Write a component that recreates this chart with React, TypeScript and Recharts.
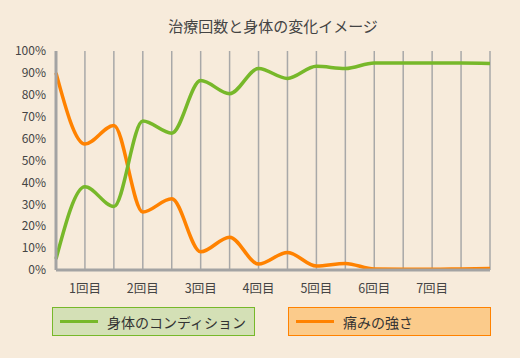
import React from "react";
import {
  LineChart,
  Line,
  XAxis,
  YAxis,
  ReferenceLine,
} from "recharts";

const steps = [0, 1, 2, 3, 4, 5, 6, 7, 8, 9, 10, 11, 12, 13, 14, 15];
const condition = [5, 38, 29, 68, 62.5, 86.5, 80.5, 92, 87.5, 93, 92, 94.5, 94.5, 94.5, 94.5, 94.3];
const pain = [90, 57.5, 66, 26.5, 32.5, 8.3, 15, 2.7, 8, 1.8, 3, 0.4, 0.3, 0.3, 0.5, 0.7];
const xTicks = [1, 3, 5, 7, 9, 11, 13];
const xLabels = ["1回目", "2回目", "3回目", "4回目", "5回目", "6回目", "7回目"];
const yTicks = [0, 10, 20, 30, 40, 50, 60, 70, 80, 90, 100];

const data = steps.map((s, i) => ({
  step: s,
  condition: condition[i],
  pain: pain[i],
}));

const FONT = '"Noto Sans CJK JP", "Noto Sans", sans-serif';
const GREEN = "#77b82a";
const ORANGE = "#ff8200";
const TEXT = "#444";

function LegendBoxes() {
  const items = [
    { label: "身体のコンディション", color: GREEN, fill: "#d4e0b6", left: 52 },
    { label: "痛みの強さ", color: ORANGE, fill: "#fbcb8b", left: 288 },
  ];
  return (
    <div style={{ position: "absolute", left: 0, top: 307, width: 520, height: 30 }}>
      {items.map((it) => (
        <div
          key={it.label}
          style={{
            position: "absolute",
            left: it.left,
            top: 0,
            width: 203,
            height: 29,
            boxSizing: "border-box",
            border: `1.5px solid ${it.color}`,
            background: it.fill,
            display: "flex",
            alignItems: "center",
          }}
        >
          <div
            style={{
              marginLeft: 7,
              width: 38,
              height: 3,
              background: it.color,
            }}
          />
          <span
            style={{
              marginLeft: 9,
              fontSize: 14,
              color: "#333",
              fontFamily: FONT,
              whiteSpace: "nowrap",
            }}
          >
            {it.label}
          </span>
        </div>
      ))}
    </div>
  );
}

export default function App() {
  return (
    <div
      style={{
        position: "fixed",
        left: 0,
        top: 0,
        width: 520,
        height: 358,
        background: "#f7ebdb",
        fontFamily: FONT,
      }}
    >
      <div
        style={{
          position: "absolute",
          top: 15,
          left: 0,
          width: 546,
          textAlign: "center",
          fontSize: 15,
          color: TEXT,
        }}
      >
        治療回数と身体の変化イメージ
      </div>
      <LineChart
        width={520}
        height={358}
        data={data}
        margin={{ top: 51, right: 30, bottom: 58, left: 1 }}
      >
        <XAxis
          dataKey="step"
          type="number"
          domain={[0, 15]}
          ticks={xTicks}
          tickFormatter={(v: number) => xLabels[xTicks.indexOf(v)] ?? ""}
          interval={0}
          height={30}
          tickLine={false}
          tickSize={0}
          tickMargin={14}
          axisLine={{ stroke: "#a3a3a3", strokeWidth: 3 }}
          tick={{ fill: TEXT, fontSize: 12.5 }}
        />
        <YAxis
          width={55}
          domain={[0, 100]}
          ticks={yTicks}
          interval={0}
          tickFormatter={(v: number) => `${v}%`}
          tickLine={false}
          tickSize={0}
          tickMargin={10}
          axisLine={{ stroke: "#a3a3a3", strokeWidth: 3 }}
          tick={{ fill: TEXT, fontSize: 12 }}
        />
        {steps.slice(1).map((s) => (
          <ReferenceLine key={s} x={s} stroke="#a8a8a8" strokeWidth={1.5} />
        ))}
        <Line
          type="monotone"
          dataKey="pain"
          name="痛みの強さ"
          stroke={ORANGE}
          strokeWidth={3.5}
          dot={false}
          isAnimationActive={false}
        />
        <Line
          type="monotone"
          dataKey="condition"
          name="身体のコンディション"
          stroke={GREEN}
          strokeWidth={3.5}
          dot={false}
          isAnimationActive={false}
        />
      </LineChart>
      <LegendBoxes />
    </div>
  );
}
